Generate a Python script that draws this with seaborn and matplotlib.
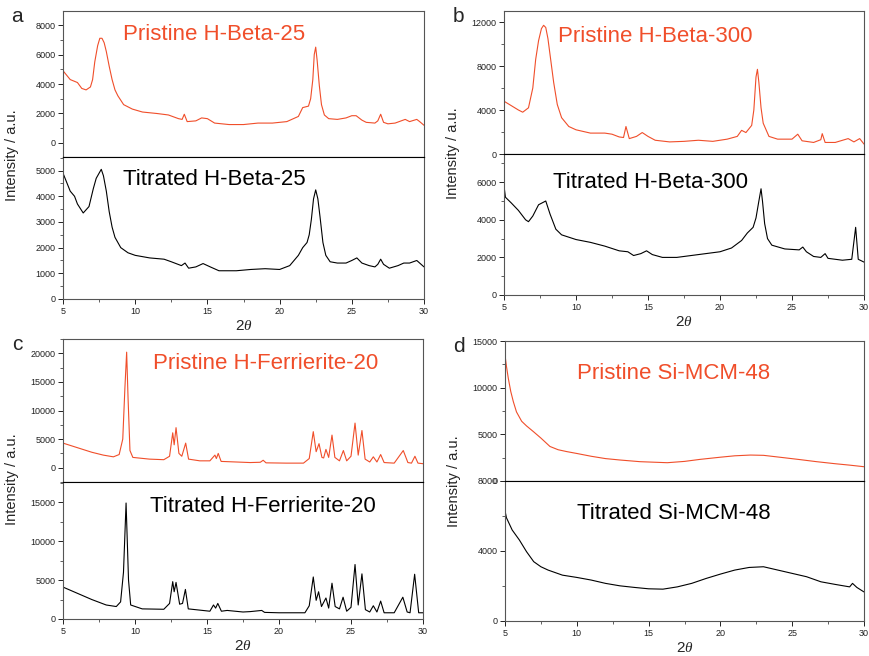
import matplotlib
matplotlib.use("Agg")
import matplotlib.pyplot as plt
import seaborn as sns
from matplotlib.ticker import MultipleLocator

# ─── Data (2θ, intensity) ───────────────────────────────────────────────────────
a_pri_x = [5.0, 5.5, 6.0, 6.3, 6.6, 6.9, 7.05, 7.2, 7.4, 7.55, 7.7, 7.85, 8.0, 8.2, 8.4, 8.6,
           8.8, 9.0, 9.2, 9.8, 10.5, 11.5, 12.3, 13.0, 13.25, 13.4, 13.6, 14.2, 14.6, 15.0,
           15.5, 16.5, 17.5, 18.5, 19.5, 20.5, 21.3, 21.6, 22.0, 22.15, 22.3, 22.4, 22.5,
           22.6, 22.75, 22.9, 23.1, 23.4, 24.0, 24.6, 25.0, 25.3, 25.7, 26.0, 26.6, 26.8,
           27.0, 27.2, 27.5, 28.0, 28.7, 29.0, 29.5, 29.7, 30.0]
a_pri_y = [4900, 4300, 4100, 3700, 3600, 3800, 4300, 5500, 6600, 7100, 7100, 6800, 6200, 5200,
           4300, 3600, 3200, 2900, 2600, 2300, 2100, 2000, 1900, 1650, 1600, 1950, 1450, 1500,
           1700, 1650, 1350, 1250, 1250, 1350, 1350, 1450, 1800, 2400, 2500, 3000, 4300, 6000,
           6500, 5600, 3900, 2600, 1900, 1650, 1600, 1700, 1850, 1850, 1550, 1400, 1350, 1500,
           1950, 1400, 1300, 1350, 1600, 1450, 1600, 1450, 1200]

a_tit_x = [5.0, 5.5, 5.8, 6.0, 6.4, 6.8, 7.1, 7.3, 7.5, 7.65, 7.8, 8.0, 8.2, 8.4, 8.6, 9.0, 9.5,
           10.0, 11.0, 12.0, 12.5, 13.2, 13.45, 13.7, 14.2, 14.7, 15.2, 15.8, 17.0, 18.0, 19.0,
           20.0, 20.7, 21.3, 21.6, 21.9, 22.05, 22.2, 22.35, 22.5, 22.65, 22.8, 23.0, 23.2,
           23.5, 24.0, 24.6, 25.0, 25.35, 25.7, 26.2, 26.6, 26.8, 27.0, 27.2, 27.6, 28.2, 28.6,
           29.0, 29.5, 29.8, 30.0]
a_tit_y = [4900, 4200, 4000, 3700, 3350, 3600, 4300, 4700, 4900, 5050, 4800, 4200, 3400, 2800,
           2400, 2000, 1800, 1700, 1600, 1550, 1450, 1300, 1400, 1200, 1250, 1380, 1250, 1100,
           1100, 1150, 1180, 1150, 1300, 1700, 2000, 2200, 2500, 3100, 3900, 4250, 3900, 3200,
           2200, 1700, 1450, 1400, 1400, 1500, 1600, 1400, 1300, 1250, 1350, 1550, 1350, 1200,
           1300, 1400, 1400, 1500, 1350, 1250]

b_pri_x = [5.0, 5.5, 6.0, 6.3, 6.7, 7.0, 7.2, 7.4, 7.6, 7.75, 7.9, 8.05, 8.25, 8.45, 8.7, 9.0,
           9.5, 10.0, 11.0, 12.0, 12.5, 13.0, 13.3, 13.47, 13.7, 14.2, 14.6, 15.0, 15.5, 16.5,
           17.5, 18.5, 19.5, 20.5, 21.2, 21.5, 21.8, 22.2, 22.35, 22.5, 22.6, 22.7, 22.85,
           23.0, 23.4, 24.0, 25.0, 25.4, 25.7, 26.5, 27.0, 27.1, 27.3, 28.0, 28.9, 29.3, 29.7,
           30.0]
b_pri_y = [4800, 4400, 4000, 3800, 4200, 6000, 8600, 10300, 11400, 11700, 11500, 10500, 8500,
           6500, 4500, 3300, 2500, 2200, 1900, 1900, 1800, 1550, 1500, 2500, 1400, 1600, 1950,
           1600, 1250, 1100, 1150, 1250, 1150, 1350, 1600, 2150, 1950, 2600, 4000, 7000, 7700,
           6500, 4200, 2800, 1600, 1350, 1350, 1800, 1200, 1050, 1300, 1850, 1050, 1050, 1400,
           1100, 1400, 900]

b_tit_x = [5.0, 5.1, 5.5, 6.0, 6.5, 6.7, 7.0, 7.4, 7.9, 8.2, 8.6, 9.0, 10.0, 11.0, 12.0, 13.0,
           13.6, 14.0, 14.5, 14.9, 15.3, 16.0, 17.0, 18.0, 19.0, 20.0, 20.8, 21.5, 21.9, 22.3,
           22.5, 22.7, 22.85, 22.95, 23.1, 23.3, 23.6, 24.5, 25.5, 25.75, 26.0, 26.5, 27.0,
           27.3, 27.5, 28.5, 29.15, 29.42, 29.6, 30.0]
b_tit_y = [5800, 5200, 4900, 4500, 4000, 3900, 4200, 4800, 5000, 4300, 3500, 3200, 2950, 2800,
           2600, 2350, 2300, 2100, 2200, 2350, 2150, 2000, 2000, 2100, 2200, 2300, 2500, 2900,
           3300, 3600, 4100, 5000, 5650, 5000, 3800, 3000, 2650, 2450, 2400, 2550, 2300, 2050,
           2000, 2200, 1950, 1850, 1900, 3600, 1900, 1750]

c_pri_x = [5.0, 6.0, 7.0, 7.8, 8.5, 8.9, 9.15, 9.3, 9.42, 9.52, 9.65, 9.85, 11.0, 12.0, 12.4,
           12.62, 12.72, 12.85, 13.05, 13.25, 13.52, 13.72, 14.5, 15.2, 15.55, 15.65, 15.78,
           15.98, 17.0, 18.0, 18.7, 18.9, 19.1, 20.5, 21.7, 22.1, 22.38, 22.58, 22.78, 22.98,
           23.1, 23.26, 23.45, 23.68, 23.88, 24.2, 24.47, 24.7, 25.0, 25.28, 25.5, 25.76, 25.98,
           26.3, 26.55, 26.8, 27.06, 27.3, 28.0, 28.63, 28.95, 29.2, 29.44, 29.65, 30.0]
c_pri_y = [4300, 3500, 2700, 2200, 1900, 2300, 5000, 14000, 20200, 12000, 3000, 1800, 1500,
           1400, 2000, 6100, 4000, 7000, 2500, 2000, 4300, 1500, 1200, 1200, 2200, 1600, 2500,
           1100, 1000, 900, 950, 1300, 850, 800, 800, 1600, 6300, 2800, 4200, 1800, 1700, 3200,
           1800, 5700, 1800, 1200, 3000, 1200, 2000, 7800, 2200, 6500, 1500, 1000, 1900, 1000,
           2300, 900, 800, 3000, 900, 800, 2000, 800, 700]

c_tit_x = [5.0, 6.0, 7.0, 8.0, 8.7, 9.0, 9.2, 9.38, 9.55, 9.7, 10.5, 12.0, 12.4, 12.62, 12.72,
           12.85, 13.1, 13.3, 13.5, 13.7, 15.2, 15.45, 15.6, 15.75, 16.0, 16.4, 17.5, 18.0, 18.8,
           19.0, 20.0, 21.8, 22.1, 22.38, 22.58, 22.75, 22.95, 23.26, 23.45, 23.68, 23.9, 24.2,
           24.45, 24.7, 25.0, 25.28, 25.5, 25.76, 26.0, 26.3, 26.55, 26.8, 27.06, 27.3, 28.0,
           28.6, 28.9, 29.1, 29.42, 29.7, 30.0]
c_tit_y = [4100, 3300, 2500, 1800, 1600, 2200, 6000, 14900, 5000, 1800, 1300, 1250, 2000, 4800,
           3500, 4700, 1900, 2000, 3800, 1300, 1000, 1800, 1400, 2000, 1000, 1100, 900, 950, 1100,
           850, 800, 800, 1700, 5400, 2400, 3500, 1600, 2700, 1400, 4600, 1600, 1300, 2800, 1000,
           1500, 7000, 1800, 5800, 1200, 900, 1700, 900, 2300, 800, 800, 2800, 900, 800, 5750,
           800, 800]

d_pri_x = [5.0, 5.1, 5.23, 5.4, 5.58, 5.8, 6.16, 6.5, 6.97, 7.5, 8.13, 8.7, 9.3, 10.0, 11.0,
           12.0, 13.0, 14.4, 16.3, 17.5, 18.6, 20.0, 21.0, 22.1, 23.0, 24.4, 25.5, 26.7, 28.0,
           29.0, 30.0]
d_pri_y = [13500, 12300, 11000, 9600, 8500, 7400, 6400, 5900, 5300, 4600, 3700, 3350, 3150,
           2950, 2650, 2400, 2250, 2070, 1960, 2100, 2320, 2550, 2700, 2780, 2750, 2500, 2300,
           2070, 1850, 1700, 1530]

d_tit_x = [5.0, 5.1, 5.5, 6.0, 6.5, 7.0, 7.5, 8.0, 9.0, 10.0, 11.0, 12.0, 13.0, 14.0, 15.0, 16.0,
           17.0, 18.0, 19.0, 20.0, 21.0, 22.0, 23.0, 24.0, 25.0, 26.0, 27.0, 28.0, 29.0, 29.2,
           29.5, 30.0]
d_tit_y = [6300, 5900, 5200, 4630, 3960, 3390, 3100, 2910, 2620, 2490, 2340, 2150, 2010, 1920,
           1840, 1820, 1950, 2150, 2430, 2680, 2910, 3060, 3100, 2910, 2720, 2530, 2240, 2090,
           1950, 2150, 1920, 1660]

RED = "#F04E2A"
FRAME = "#555555"

sns.set_style("ticks")
plt.rcParams["font.family"] = ["Liberation Sans", "DejaVu Sans"]
plt.rcParams["mathtext.fontset"] = "custom"
plt.rcParams["mathtext.rm"] = "Liberation Sans"
plt.rcParams["mathtext.it"] = "Liberation Serif:italic"

fig = plt.figure(figsize=(8.69, 6.56), dpi=100)

# panel boxes in pixels: left, right, top, divider, bottom
panels = [
    dict(letter="a", box=(63, 424, 11, 157, 299),
         top=(a_pri_x, a_pri_y, "Pristine H-Beta-25", (-950, 8950), 2000, 1000, (0.166, 0.84)),
         bot=(a_tit_x, a_tit_y, "Titrated H-Beta-25", (0, 5530), 1000, 500, (0.166, 0.84))),
    dict(letter="b", box=(504, 864, 11, 154, 295),
         top=(b_pri_x, b_pri_y, "Pristine H-Beta-300", (0, 13000), 4000, 2000, (0.149, 0.825)),
         bot=(b_tit_x, b_tit_y, "Titrated H-Beta-300", (0, 7500), 2000, 1000, (0.136, 0.80))),
    dict(letter="c", box=(63, 423, 339, 482, 619),
         top=(c_pri_x, c_pri_y, "Pristine H-Ferrierite-20", (-2500, 22500), 5000, 2500, (0.25, 0.83)),
         bot=(c_tit_x, c_tit_y, "Titrated H-Ferrierite-20", (0, 17600), 5000, 2500, (0.242, 0.82))),
    dict(letter="d", box=(505, 864, 341, 481, 621),
         top=(d_pri_x, d_pri_y, "Pristine Si-MCM-48", (0, 15000), 5000, 2500, (0.20, 0.77)),
         bot=(d_tit_x, d_tit_y, "Titrated Si-MCM-48", (0, 8000), 4000, 2000, (0.20, 0.77))),
]

W, H = 869, 656


def style_axes(ax, major, minor):
    ax.yaxis.set_major_locator(MultipleLocator(major))
    ax.yaxis.set_minor_locator(MultipleLocator(minor))
    ax.xaxis.set_major_locator(MultipleLocator(5))
    ax.xaxis.set_minor_locator(MultipleLocator(2.5))
    ax.tick_params(axis="both", which="major", direction="out", length=3.5, width=0.7,
                   labelsize=6.5, colors="#222222", pad=2)
    ax.tick_params(axis="both", which="minor", direction="out", length=2, width=0.6,
                   colors="#444444")
    for s in ax.spines.values():
        s.set_visible(True)
        s.set_color(FRAME)
        s.set_linewidth(0.8)


for p in panels:
    l, r, t, m, b = p["box"]
    ax_top = fig.add_axes([l / W, 1 - m / H, (r - l) / W, (m - t) / H])
    ax_bot = fig.add_axes([l / W, 1 - b / H, (r - l) / W, (b - m) / H], sharex=ax_top)

    for ax, (xs, ys, label, ylim, major, minor, pos), color in (
            (ax_top, p["top"], RED), (ax_bot, p["bot"], "black")):
        sns.lineplot(x=xs, y=ys, ax=ax, color=color, linewidth=0.8, sort=False)
        ax.set_xlim(5, 30)
        ax.set_ylim(*ylim)
        style_axes(ax, major, minor)
        ax.set_xlabel("")
        ax.set_ylabel("")
        ax.text(pos[0], pos[1], label, transform=ax.transAxes, ha="left", va="center",
                fontsize=16, color=color)

    ax_top.tick_params(axis="x", which="both", bottom=False, labelbottom=False)
    ax_top.spines["bottom"].set_color("black")
    ax_bot.spines["top"].set_color("black")

    # axis labels and panel letter
    fig.text((l - 51) / W, 1 - (t + b) / 2 / H, "Intensity / a.u.", rotation=90,
             ha="center", va="center", fontsize=10.5)
    fig.text((l + r) / 2 / W, 1 - (b + 27) / H, r"$\mathrm{2}\mathit{\theta}$",
             ha="center", va="center", fontsize=11)
    fig.text((l - 46) / W, 1 - (t + 6) / H, p["letter"], ha="center", va="center",
             fontsize=15)

plt.savefig("out.png", dpi=100)
plt.close()
